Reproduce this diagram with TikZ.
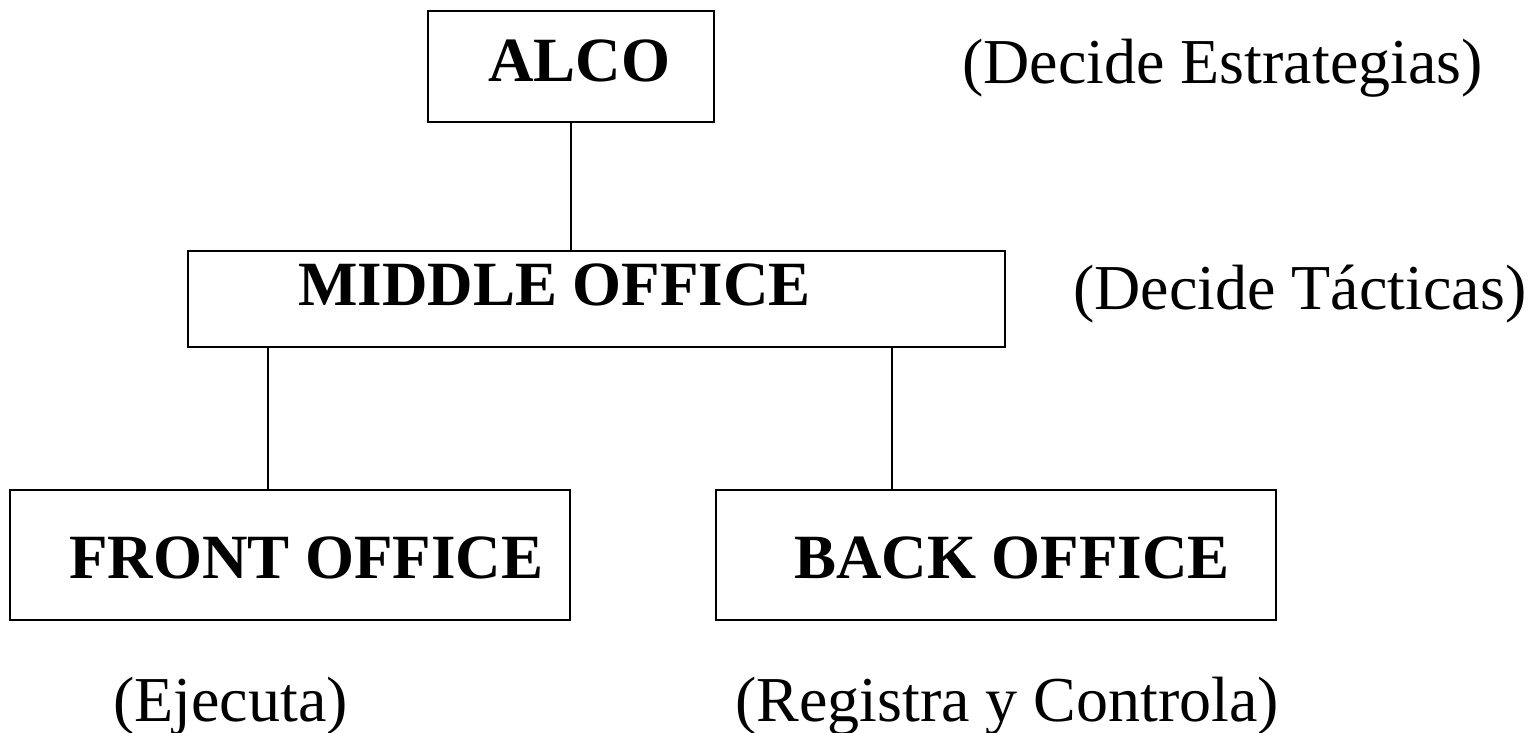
\documentclass[tikz,border=0pt]{standalone}
\usepackage{fontspec}
\setmainfont{Liberation Serif}
\begin{document}
\begin{tikzpicture}[x=1pt,y=-1pt,
  box/.style={draw=black,line width=1.6pt,rectangle,inner sep=0pt},
  boldtxt/.style={inner sep=0pt,anchor=base west,font=\fontsize{63}{70}\selectfont\bfseries},
  normtxt/.style={inner sep=0pt,anchor=base west,font=\fontsize{64}{70}\selectfont},
  conn/.style={line width=1.6pt}]
\useasboundingbox (0,0) rectangle (1528,733);
% boxes
\node[box,minimum width=286pt,minimum height=111pt] (alco) at (571,66.5) {};
\node[box,minimum width=817pt,minimum height=96pt] (middle) at (596.5,299) {};
\node[box,minimum width=560pt,minimum height=130pt] (front) at (290,555) {};
\node[box,minimum width=560pt,minimum height=130pt] (back) at (996,555) {};
% box texts
\node[boldtxt] (talco) at (488,82) {ALCO};
\node[boldtxt] (tmiddle) at (298,305) {MIDDLE OFFICE};
\node[boldtxt] (tfront) at (69,578) {FRONT OFFICE};
\node[boldtxt] (tback) at (794,578) {BACK OFFICE};
% side texts
\node[normtxt] (lalco) at (962,84) {(Decide Estrategias)};
\node[normtxt] (lmiddle) at (1073,309) {(Decide Tácticas)};
\node[normtxt] (lfront) at (113,721) {(Ejecuta)};
\node[normtxt] (lback) at (735,721) {(Registra y Controla)};
% connectors
\draw[conn] (alco.south) -- (alco.south |- middle.north);
\draw[conn] (middle.south -| 268,0) -- (front.north -| 268,0);
\draw[conn] (middle.south -| 892,0) -- (back.north -| 892,0);
\end{tikzpicture}
\end{document}
